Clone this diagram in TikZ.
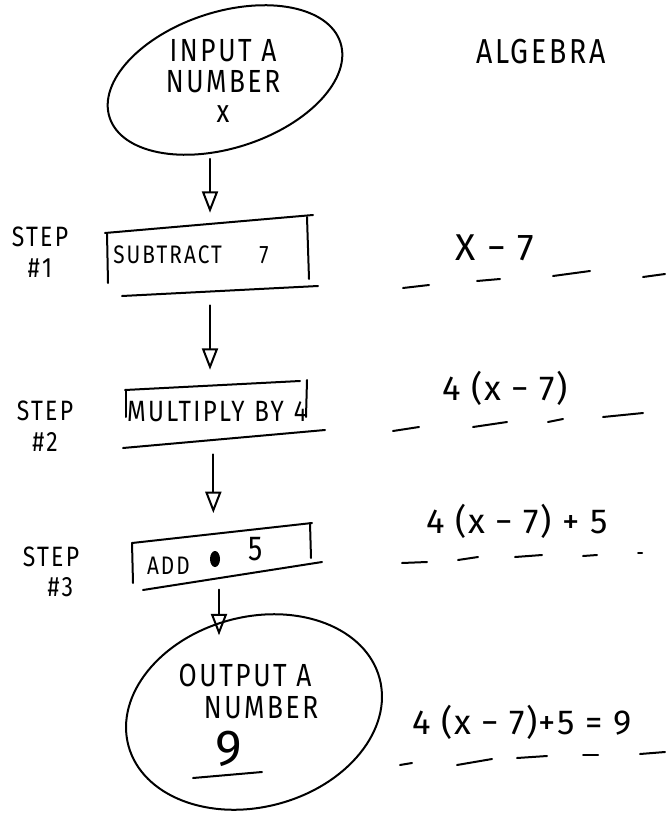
\documentclass[tikz,border=0pt]{standalone}
\usepackage{fontspec}
\setmainfont{Fira Sans}
\newfontfamily\handfont[LetterSpace=8,FakeStretch=0.82]{Fira Sans}
\newfontfamily\exprfont[LetterSpace=4]{Fira Sans}
\usetikzlibrary{arrows.meta,shapes.geometric,calc}
\begin{document}
\begin{tikzpicture}[x=0.75pt,y=-0.75pt,
  pen/.style={line width=1.5pt, line cap=round, line join=round},
  arr/.style={pen, -{Triangle[open,length=16pt,width=12pt]}},
  blob/.style={ellipse, draw, pen},
  boxtext/.style={inner ysep=0pt, align=left, font=\handfont\fontsize{19}{21}\selectfont},
  steplabel/.style={align=center, inner sep=0pt, font=\handfont\fontsize{21}{23}\selectfont},
  expr/.style={inner sep=0pt, font=\exprfont\fontsize{26}{28}\selectfont},
  bubbletext/.style={align=center, inner sep=0pt, font=\handfont\fontsize{24}{23}\selectfont}
]
\useasboundingbox (0,0) rectangle (665,813);

% start / end bubbles
\node[blob, rotate=18, minimum width=182pt, minimum height=102pt] (in) at (225,80) {};
\node[bubbletext] (intext) at (223,81) {INPUT A\\NUMBER\\x};

\node[blob, rotate=15, minimum width=195pt, minimum height=142.5pt] (out) at (254,712) {};
\node[bubbletext, font=\handfont\fontsize{24}{24}\selectfont] (outtext) at (245,715)
  {OUTPUT A\\\hspace*{24pt}NUMBER\\[8pt]{\exprfont\fontsize{38}{40}\selectfont 9}\hspace*{25pt}};
\draw[pen] (193,778) -- (262,772);

% title
\node[inner sep=0pt, font=\handfont\fontsize{26}{28}\selectfont] (title) at (541,52) {ALGEBRA};

% step boxes
\node[boxtext, inner xsep=4.5pt, text width=145pt, minimum height=55pt] (b1) at (210,255) {SUBTRACT\hspace{28pt}7};
\draw[pen] (105,233) -- (313,215);
\draw[pen] (107,233) -- (108,283);
\draw[pen] (307,217) -- (309,279);
\draw[pen] (122,296) -- (318,286);

\node[boxtext, font=\handfont\fontsize{22}{24}\selectfont, inner xsep=3pt, text width=145.5pt, minimum height=51pt] (b2) at (224,412) {MULTIPLY BY 4};
\draw[pen] (125,390) -- (300,381);
\draw[pen] (126,390) -- (126,417);
\draw[pen] (307,380) -- (306,417);
\draw[pen] (123,448) -- (325,430);

\node[boxtext, inner xsep=11pt, text width=120pt, minimum height=50pt] (b3) at (227,556) {ADD\hspace{44pt}\raisebox{10pt}{\fontsize{26}{28}\selectfont 5}};
\draw[pen] (132,543) -- (312,523);
\draw[pen] (132,543) -- (133,583);
\draw[pen] (310,523) -- (311,558);
\draw[pen] (143,590) -- (322,562);
\fill (215,559) ellipse [x radius=5, y radius=8];

% step labels
\node[steplabel] (s1) at (40,252) {STEP\\\#1};
\node[steplabel] (s2) at (45,426) {STEP\\\#2};
\node[steplabel] (s3) at (51,572) {STEP\\\hspace*{14pt}\#3};

% connectors
\draw[arr, shorten <=10pt, shorten >=4pt] (b1.north |- in.south) -- (b1.north);
\draw[arr, shorten <=10pt, shorten >=6pt] (b1.south) -- (b1.south |- b2.north);
\draw[arr, shorten <=6pt, shorten >=7pt] ([xshift=-8pt]b2.south) -- ([xshift=-8pt]b2.south |- b3.north);
\draw[arr, shorten >=-12pt] ([xshift=-6pt]b3.south) -- ([xshift=-6pt]b3.south |- out.north);

% algebra column
\node[expr, font=\exprfont\fontsize{28}{30}\selectfont] (e1) at (495,248) {X − 7};
\draw[pen] (403,288) -- (429,285);
\draw[pen] (477,281) -- (500,279);
\draw[pen] (553,276) -- (590,271);
\draw[pen] (643,277) -- (665,274);

\node[expr] (e2) at (505,388) {4 (x − 7)};
\draw[pen] (393,431) -- (419,427);
\draw[pen] (473,427) -- (507,422);
\draw[pen] (548,422) -- (563,419);
\draw[pen] (603,417) -- (643,413);

\node[expr] (e3) at (517,521) {4 (x − 7) + 5};
\draw[pen] (402,563) -- (427,562);
\draw[pen] (458,560) -- (478,557);
\draw[pen] (515,557) -- (542,555);
\draw[pen] (583,556) -- (597,555);
\draw[pen] (638,553) -- (642,553);

\node[expr] (e4) at (522,722) {4 (x − 7)+5 = 9};
\draw[pen] (400,765) -- (412,763);
\draw[pen] (457,765) -- (492,759);
\draw[pen] (517,758) -- (547,756);
\draw[pen] (583,755) -- (598,755);
\draw[pen] (640,754) -- (665,752);
\end{tikzpicture}
\end{document}
